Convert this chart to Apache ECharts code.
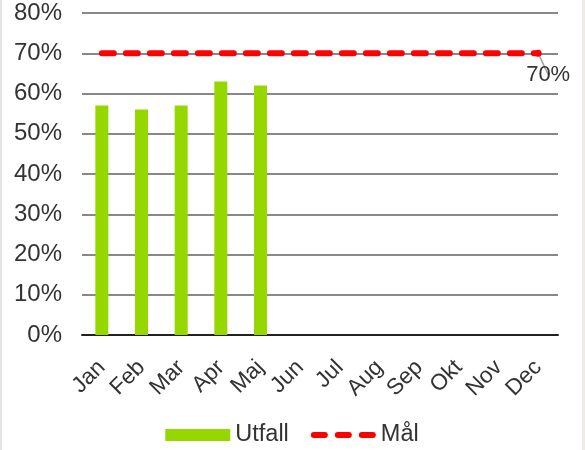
<!DOCTYPE html>
<html>
<head>
<meta charset="utf-8">
<script src="https://cdn.jsdelivr.net/npm/echarts@6/dist/echarts.min.js"></script>
<style>
  html, body { margin: 0; padding: 0; background: #fff; }
  #chart {
    width: 580px; height: 450px;
    border-left: 2px solid #e4e4e4;
    border-right: 3px solid #efebe4;
  }
</style>
</head>
<body>
<div id="chart"></div>
<script>
// chart data
const months = ['Jan', 'Feb', 'Mar', 'Apr', 'Maj', 'Jun', 'Jul', 'Aug', 'Sep', 'Okt', 'Nov', 'Dec'];
const utfall = [57, 56, 57, 63, 62, null, null, null, null, null, null, null];
const mal = [70, 70, 70, 70, 70, 70, 70, 70, 70, 70, 70, 70];
const yTicks = [0, 10, 20, 30, 40, 50, 60, 70, 80];

const chart = echarts.init(document.getElementById('chart'));

// last target point gets the "70%" label with a leader line
const malData = mal.map((v, i) => i === mal.length - 1 ? {
  value: v,
  symbolSize: 7,
  label: {
    show: true,
    position: 'bottom',
    offset: [10, 2],
    formatter: '{c}%',
    color: '#333',
    fontSize: 22
  },
  labelLine: { show: true, lineStyle: { color: '#a0a0a0', width: 1.5 } }
} : v);

// three rounded dashes for the target legend icon
const dashIcon = 'path://M3,0h11a3,3 0 0 1 0,6h-11a3,3 0 0 1 0,-6z' +
  'M27,0h11a3,3 0 0 1 0,6h-11a3,3 0 0 1 0,-6z' +
  'M51,0h11a3,3 0 0 1 0,6h-11a3,3 0 0 1 0,-6z';

const options = {
  animation: false,
  textStyle: { fontFamily: 'Liberation Sans' },
  grid: { left: 80, right: 24, top: 13, bottom: 115 },
  legend: {
    bottom: -2,
    left: 'center',
    itemGap: 22,
    itemWidth: 65,
    itemHeight: 12,
    textStyle: { fontSize: 23.5, color: '#333' },
    data: [
      { name: 'Utfall', icon: 'rect' },
      { name: 'Mål', icon: dashIcon }
    ]
  },
  xAxis: {
    type: 'category',
    data: months,
    axisLine: { lineStyle: { color: '#222', width: 2 } },
    axisTick: { show: false },
    axisLabel: { rotate: 45, fontSize: 22.5, color: '#333', margin: 29, interval: 0 }
  },
  yAxis: {
    type: 'value',
    min: yTicks[0],
    max: yTicks[yTicks.length - 1],
    interval: 10,
    axisLine: { show: false },
    axisTick: { show: false },
    axisLabel: { formatter: '{value}%', fontSize: 24, color: '#333', margin: 20 },
    splitLine: { lineStyle: { color: '#888', width: 2 } }
  },
  series: [
    {
      name: 'Utfall',
      type: 'bar',
      data: utfall,
      barWidth: 13,
      itemStyle: { color: '#97d700' }
    },
    {
      name: 'Mål',
      type: 'line',
      data: malData,
      symbol: 'circle',
      symbolSize: 0,
      lineStyle: { color: '#ff0000', width: 6, type: [12, 12], cap: 'round' },
      itemStyle: { color: '#ff0000' },
      z: 3
    }
  ]
};

chart.setOption(options);
</script>
</body>
</html>
